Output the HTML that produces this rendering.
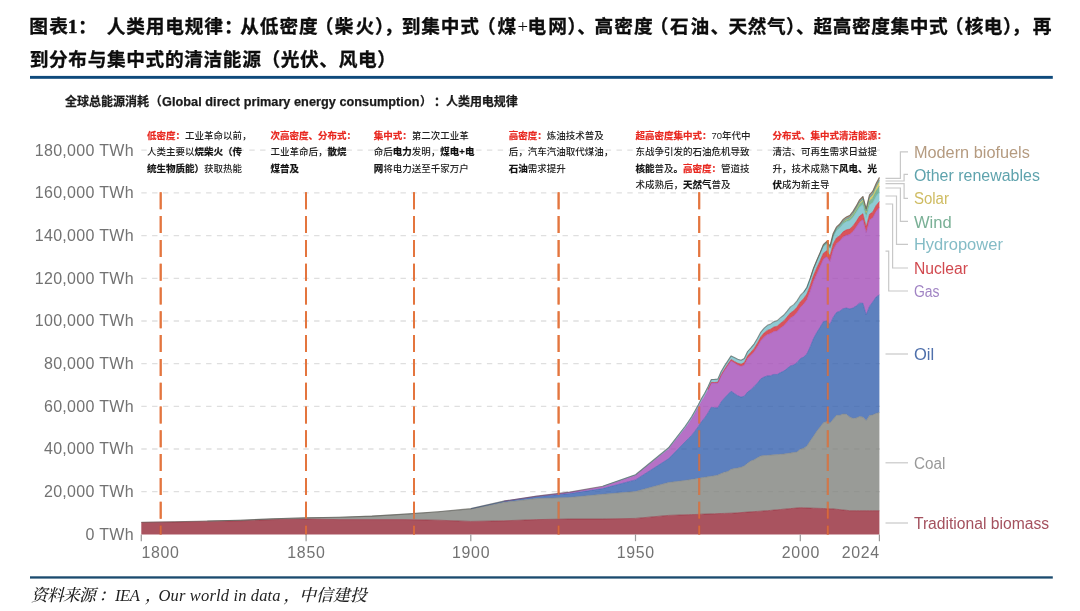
<!DOCTYPE html>
<html lang="zh-CN">
<head>
<meta charset="utf-8">
<title>图表1：人类用电规律</title>
<style>
html,body{margin:0;padding:0;background:#fff;}
body{width:1080px;height:611px;position:relative;overflow:hidden;font-family:"Liberation Sans","Noto Sans CJK SC",sans-serif;}
.tt,.tp,.sb,.sl,.fc,.fl{position:absolute;white-space:nowrap;}
.tt{font-family:"Liberation Serif","Noto Sans CJK SC",sans-serif;font-weight:bold;font-size:18.7px;line-height:24px;color:#0d0d0d;-webkit-text-stroke:0.3px #0d0d0d;}
.tp{font-family:"Liberation Serif","Noto Sans CJK SC",sans-serif;font-weight:normal;font-size:18.7px;line-height:24px;color:#0d0d0d;}
.sb{font-family:"Liberation Sans","Noto Sans CJK SC",sans-serif;font-weight:bold;font-size:12px;line-height:16px;color:#1a1a1a;-webkit-text-stroke:0.25px #1a1a1a;}
.sl{font-family:"Liberation Sans","Noto Sans CJK SC",sans-serif;font-weight:bold;font-size:12.7px;line-height:16px;color:#1a1a1a;-webkit-text-stroke:0.25px #1a1a1a;}
.fc{font-family:"Liberation Serif","Noto Serif CJK SC",serif;font-weight:500;font-style:italic;font-size:16.8px;line-height:22px;color:#222;}
.fl{font-family:"Liberation Serif","Noto Serif CJK SC",serif;font-style:italic;font-size:16.5px;line-height:22px;color:#222;}
.ann{position:absolute;top:128.0px;font-size:9.5px;line-height:16.4px;color:#222;white-space:nowrap;font-weight:500;}
.ann b{font-weight:bold;color:#111;-webkit-text-stroke:0.2px #111;}
.ann b.r{color:#e8261e;-webkit-text-stroke:0.2px #e8261e;}
svg text{font-family:"Liberation Sans",sans-serif;}
</style>
</head>
<body>
<h1 style="margin:0;font-size:inherit;font-weight:inherit"><span class="tt" style="left:29.25px;top:15.3px;letter-spacing:1.25px;">图表</span><span class="tt" style="left:68.03px;top:15.3px;-webkit-text-stroke:0.55px #0d0d0d;">1</span><span class="tt" style="left:77.97px;top:15.3px;">：</span><span class="tt" style="left:106.75px;top:15.3px;letter-spacing:0.80px;">人类用电规律</span><span class="tt" style="left:223.88px;top:15.3px;">：</span><span class="tt" style="left:240.25px;top:15.3px;letter-spacing:0.92px;">从低密度</span><span class="tt" style="left:314.75px;top:15.3px;">（</span><span class="tt" style="left:334.75px;top:15.3px;letter-spacing:2.00px;">柴火</span><span class="tt" style="left:375.12px;top:15.3px;">）</span><span class="tt" style="left:384.00px;top:15.3px;">，</span><span class="tt" style="left:401.75px;top:15.3px;letter-spacing:0.83px;">到集中式</span><span class="tt" style="left:476.98px;top:15.3px;">（</span><span class="tt" style="left:497.52px;top:15.3px;">煤</span><span class="tp" style="left:517.38px;top:15.3px;">+</span><span class="tt" style="left:527.50px;top:15.3px;letter-spacing:2.15px;">电网</span><span class="tt" style="left:567.42px;top:15.3px;">）</span><span class="tt" style="left:577.27px;top:15.3px;">、</span><span class="tt" style="left:594.50px;top:15.3px;letter-spacing:1.12px;">高密度</span><span class="tt" style="left:649.75px;top:15.3px;">（</span><span class="tt" style="left:670.00px;top:15.3px;letter-spacing:1.75px;">石油</span><span class="tt" style="left:710.62px;top:15.3px;">、</span><span class="tt" style="left:728.50px;top:15.3px;letter-spacing:0.62px;">天然气</span><span class="tt" style="left:786.02px;top:15.3px;">）</span><span class="tt" style="left:796.12px;top:15.3px;">、</span><span class="tt" style="left:813.50px;top:15.3px;letter-spacing:0.58px;">超高密度集中式</span><span class="tt" style="left:944.75px;top:15.3px;">（</span><span class="tt" style="left:964.75px;top:15.3px;letter-spacing:0.25px;">核电</span><span class="tt" style="left:1003.02px;top:15.3px;">）</span><span class="tt" style="left:1011.62px;top:15.3px;">，</span><span class="tt" style="left:1032.78px;top:15.3px;">再</span><span class="tt" style="left:29.75px;top:47.7px;letter-spacing:0.62px;">到分布与集中式的清洁能源（光伏、风电）</span></h1>
<div><span class="sb" style="left:65.00px;top:93.7px;">全球总能源消耗</span><span class="sb" style="left:149.75px;top:93.7px;">（</span><span class="sl" style="left:162.00px;top:93.7px;letter-spacing:0.04px;">Global direct primary energy consumption</span><span class="sb" style="left:420.12px;top:93.7px;">）</span><span class="sb" style="left:433.88px;top:93.7px;">：</span><span class="sb" style="left:446.00px;top:93.7px;letter-spacing:-0.05px;">人类用电规律</span></div>
<svg width="1080" height="611" viewBox="0 0 1080 611" style="position:absolute;left:0;top:0">
<line x1="141.3" x2="880" y1="491.7" y2="491.7" stroke="#dfdfdf" stroke-width="1.3" stroke-dasharray="5.4 5.4"/>
<line x1="141.3" x2="880" y1="449.0" y2="449.0" stroke="#dfdfdf" stroke-width="1.3" stroke-dasharray="5.4 5.4"/>
<line x1="141.3" x2="880" y1="406.3" y2="406.3" stroke="#dfdfdf" stroke-width="1.3" stroke-dasharray="5.4 5.4"/>
<line x1="141.3" x2="880" y1="363.6" y2="363.6" stroke="#dfdfdf" stroke-width="1.3" stroke-dasharray="5.4 5.4"/>
<line x1="141.3" x2="880" y1="321.0" y2="321.0" stroke="#dfdfdf" stroke-width="1.3" stroke-dasharray="5.4 5.4"/>
<line x1="141.3" x2="880" y1="278.3" y2="278.3" stroke="#dfdfdf" stroke-width="1.3" stroke-dasharray="5.4 5.4"/>
<line x1="141.3" x2="880" y1="235.6" y2="235.6" stroke="#dfdfdf" stroke-width="1.3" stroke-dasharray="5.4 5.4"/>
<line x1="141.3" x2="880" y1="192.9" y2="192.9" stroke="#dfdfdf" stroke-width="1.3" stroke-dasharray="5.4 5.4"/>
<line x1="141.3" x2="880" y1="150.2" y2="150.2" stroke="#dfdfdf" stroke-width="1.3" stroke-dasharray="5.4 5.4"/>
<line x1="160.7" x2="160.7" y1="192.3" y2="534.4" stroke="#e3763f" stroke-width="2" stroke-dasharray="17 6.8"/>
<line x1="306.0" x2="306.0" y1="192.3" y2="534.4" stroke="#e3763f" stroke-width="2" stroke-dasharray="17 6.8"/>
<line x1="414.0" x2="414.0" y1="192.3" y2="534.4" stroke="#e3763f" stroke-width="2" stroke-dasharray="17 6.8"/>
<line x1="558.6" x2="558.6" y1="192.3" y2="534.4" stroke="#e3763f" stroke-width="2" stroke-dasharray="17 6.8"/>
<line x1="699.2" x2="699.2" y1="192.3" y2="534.4" stroke="#e3763f" stroke-width="2" stroke-dasharray="17 6.8"/>
<line x1="827.8" x2="827.8" y1="192.3" y2="534.4" stroke="#e3763f" stroke-width="2" stroke-dasharray="17 6.8"/>
<polygon points="141.3,522.5 174.2,521.9 207.2,521.4 240.2,520.8 273.1,519.6 306.1,519.0 339.0,519.6 372.0,519.6 404.9,519.6 437.9,520.2 470.8,521.4 503.8,520.8 536.7,519.6 569.6,519.0 602.6,519.0 635.5,518.4 668.5,515.4 685.0,514.8 688.3,514.7 691.6,514.6 694.9,514.5 698.2,514.4 701.5,514.2 704.7,514.1 708.0,514.0 711.3,513.9 714.6,513.8 717.9,513.6 721.2,513.5 724.5,513.4 727.8,513.3 731.1,513.2 734.4,513.1 737.7,512.8 741.0,512.6 744.3,512.3 747.6,512.1 750.9,511.9 754.2,511.6 757.5,511.4 760.8,511.2 764.1,510.9 767.3,510.7 770.6,510.4 773.9,510.1 777.2,509.8 780.5,509.5 783.8,509.2 787.1,508.9 790.4,508.6 793.7,508.3 797.0,508.0 800.3,507.7 803.6,507.8 806.9,508.0 810.2,508.1 813.5,508.2 816.8,508.3 820.1,508.4 823.4,508.5 826.7,508.7 830.0,508.8 833.2,508.9 836.5,509.3 839.8,509.6 843.1,510.0 846.4,510.3 849.7,510.7 853.0,510.7 856.3,510.7 859.6,510.7 862.9,510.7 866.2,510.7 869.5,510.7 872.8,510.7 876.1,510.7 879.4,510.7 879.4,534.4 876.1,534.4 872.8,534.4 869.5,534.4 866.2,534.4 862.9,534.4 859.6,534.4 856.3,534.4 853.0,534.4 849.7,534.4 846.4,534.4 843.1,534.4 839.8,534.4 836.5,534.4 833.2,534.4 830.0,534.4 826.7,534.4 823.4,534.4 820.1,534.4 816.8,534.4 813.5,534.4 810.2,534.4 806.9,534.4 803.6,534.4 800.3,534.4 797.0,534.4 793.7,534.4 790.4,534.4 787.1,534.4 783.8,534.4 780.5,534.4 777.2,534.4 773.9,534.4 770.6,534.4 767.3,534.4 764.1,534.4 760.8,534.4 757.5,534.4 754.2,534.4 750.9,534.4 747.6,534.4 744.3,534.4 741.0,534.4 737.7,534.4 734.4,534.4 731.1,534.4 727.8,534.4 724.5,534.4 721.2,534.4 717.9,534.4 714.6,534.4 711.3,534.4 708.0,534.4 704.7,534.4 701.5,534.4 698.2,534.4 694.9,534.4 691.6,534.4 688.3,534.4 685.0,534.4 668.5,534.4 635.5,534.4 602.6,534.4 569.6,534.4 536.7,534.4 503.8,534.4 470.8,534.4 437.9,534.4 404.9,534.4 372.0,534.4 339.0,534.4 306.1,534.4 273.1,534.4 240.2,534.4 207.2,534.4 174.2,534.4 141.3,534.4" fill="#942837" fill-opacity="0.8"/>
<polygon points="207.2,521.0 240.2,520.2 273.1,518.8 306.1,517.8 339.0,517.3 372.0,516.1 404.9,514.2 437.9,511.9 470.8,509.1 503.8,502.3 536.7,498.6 569.6,497.4 602.6,494.3 635.5,491.5 668.5,482.5 685.0,480.4 688.3,479.9 691.6,479.4 694.9,478.9 698.2,478.3 701.5,477.8 704.7,477.3 708.0,476.7 711.3,476.2 714.6,475.7 717.9,475.1 721.2,473.5 724.5,472.2 727.8,471.5 731.1,469.3 734.4,468.5 737.7,468.0 741.0,467.3 744.3,465.9 747.6,463.2 750.9,460.9 754.2,459.8 757.5,457.7 760.8,456.0 764.1,455.5 767.3,455.4 770.6,455.1 773.9,454.8 777.2,454.6 780.5,454.3 783.8,454.1 787.1,453.5 790.4,453.0 793.7,452.5 797.0,452.0 800.3,449.2 803.6,448.3 806.9,446.1 810.2,440.9 813.5,436.2 816.8,431.2 820.1,427.0 823.4,422.7 826.7,421.5 830.0,423.0 833.2,419.3 836.5,415.3 839.8,415.3 843.1,414.0 846.4,414.3 849.7,417.1 853.0,418.4 856.3,418.0 859.6,416.5 862.9,417.1 866.2,420.6 869.5,415.6 872.8,414.9 876.1,413.4 879.4,412.6 879.4,510.7 876.1,510.7 872.8,510.7 869.5,510.7 866.2,510.7 862.9,510.7 859.6,510.7 856.3,510.7 853.0,510.7 849.7,510.7 846.4,510.3 843.1,510.0 839.8,509.6 836.5,509.3 833.2,508.9 830.0,508.8 826.7,508.7 823.4,508.5 820.1,508.4 816.8,508.3 813.5,508.2 810.2,508.1 806.9,508.0 803.6,507.8 800.3,507.7 797.0,508.0 793.7,508.3 790.4,508.6 787.1,508.9 783.8,509.2 780.5,509.5 777.2,509.8 773.9,510.1 770.6,510.4 767.3,510.7 764.1,510.9 760.8,511.2 757.5,511.4 754.2,511.6 750.9,511.9 747.6,512.1 744.3,512.3 741.0,512.6 737.7,512.8 734.4,513.1 731.1,513.2 727.8,513.3 724.5,513.4 721.2,513.5 717.9,513.6 714.6,513.8 711.3,513.9 708.0,514.0 704.7,514.1 701.5,514.2 698.2,514.4 694.9,514.5 691.6,514.6 688.3,514.7 685.0,514.8 668.5,515.4 635.5,518.4 602.6,519.0 569.6,519.0 536.7,519.6 503.8,520.8 470.8,521.4 437.9,520.2 404.9,519.6 372.0,519.6 339.0,519.6 306.1,519.0 273.1,519.6 240.2,520.8 207.2,521.4" fill="#80827d" fill-opacity="0.8"/>
<polygon points="470.8,508.7 503.8,501.4 536.7,496.7 569.6,493.6 602.6,488.6 635.5,479.9 668.5,458.8 685.0,442.0 688.3,438.7 691.6,435.4 694.9,431.2 698.2,426.7 701.5,421.7 704.7,417.9 708.0,412.9 711.3,407.2 714.6,407.7 717.9,407.9 721.2,401.9 724.5,398.0 727.8,394.5 731.1,391.2 734.4,393.5 737.7,395.7 741.0,397.1 744.3,396.2 747.6,392.1 750.9,389.7 754.2,386.5 757.5,383.0 760.8,378.9 764.1,377.0 767.3,375.9 770.6,375.7 773.9,374.4 777.2,374.5 780.5,372.6 783.8,371.1 787.1,368.6 790.4,365.9 793.7,365.0 797.0,362.7 800.3,358.7 803.6,357.1 806.9,354.0 810.2,346.9 813.5,338.6 816.8,332.5 820.1,327.3 823.4,321.7 826.7,321.1 830.0,324.4 833.2,317.4 836.5,312.5 839.8,311.2 843.1,308.7 846.4,308.1 849.7,308.9 853.0,308.1 856.3,305.9 859.6,303.2 862.9,303.3 866.2,314.8 869.5,306.4 872.8,301.9 876.1,297.0 879.4,294.9 879.4,412.6 876.1,413.4 872.8,414.9 869.5,415.6 866.2,420.6 862.9,417.1 859.6,416.5 856.3,418.0 853.0,418.4 849.7,417.1 846.4,414.3 843.1,414.0 839.8,415.3 836.5,415.3 833.2,419.3 830.0,423.0 826.7,421.5 823.4,422.7 820.1,427.0 816.8,431.2 813.5,436.2 810.2,440.9 806.9,446.1 803.6,448.3 800.3,449.2 797.0,452.0 793.7,452.5 790.4,453.0 787.1,453.5 783.8,454.1 780.5,454.3 777.2,454.6 773.9,454.8 770.6,455.1 767.3,455.4 764.1,455.5 760.8,456.0 757.5,457.7 754.2,459.8 750.9,460.9 747.6,463.2 744.3,465.9 741.0,467.3 737.7,468.0 734.4,468.5 731.1,469.3 727.8,471.5 724.5,472.2 721.2,473.5 717.9,475.1 714.6,475.7 711.3,476.2 708.0,476.7 704.7,477.3 701.5,477.8 698.2,478.3 694.9,478.9 691.6,479.4 688.3,479.9 685.0,480.4 668.5,482.5 635.5,491.5 602.6,494.3 569.6,497.4 536.7,498.6 503.8,502.3 470.8,509.1" fill="#3560ae" fill-opacity="0.8"/>
<polygon points="503.8,501.1 536.7,496.2 569.6,492.3 602.6,486.7 635.5,475.4 668.5,449.2 685.0,428.6 688.3,423.9 691.6,419.1 694.9,413.5 698.2,407.6 701.5,401.2 704.7,396.2 708.0,389.9 711.3,382.9 714.6,383.1 717.9,383.0 721.2,375.6 724.5,370.4 727.8,365.6 731.1,360.9 734.4,362.9 737.7,365.0 741.0,366.4 744.3,365.1 747.6,358.6 750.9,355.3 754.2,351.8 757.5,346.6 760.8,340.8 764.1,337.1 767.3,334.6 770.6,333.6 773.9,331.6 777.2,330.9 780.5,328.1 783.8,325.8 787.1,322.1 790.4,318.1 793.7,316.1 797.0,312.6 800.3,307.4 803.6,304.2 806.9,299.7 810.2,291.1 813.5,281.4 816.8,273.8 820.1,266.7 823.4,259.2 826.7,256.7 830.0,261.7 833.2,249.9 836.5,243.6 839.8,241.0 843.1,237.1 846.4,235.2 849.7,234.6 853.0,231.5 856.3,227.0 859.6,222.0 862.9,219.7 866.2,232.7 869.5,220.1 872.8,217.7 876.1,211.4 879.4,207.6 879.4,294.9 876.1,297.0 872.8,301.9 869.5,306.4 866.2,314.8 862.9,303.3 859.6,303.2 856.3,305.9 853.0,308.1 849.7,308.9 846.4,308.1 843.1,308.7 839.8,311.2 836.5,312.5 833.2,317.4 830.0,324.4 826.7,321.1 823.4,321.7 820.1,327.3 816.8,332.5 813.5,338.6 810.2,346.9 806.9,354.0 803.6,357.1 800.3,358.7 797.0,362.7 793.7,365.0 790.4,365.9 787.1,368.6 783.8,371.1 780.5,372.6 777.2,374.5 773.9,374.4 770.6,375.7 767.3,375.9 764.1,377.0 760.8,378.9 757.5,383.0 754.2,386.5 750.9,389.7 747.6,392.1 744.3,396.2 741.0,397.1 737.7,395.7 734.4,393.5 731.1,391.2 727.8,394.5 724.5,398.0 721.2,401.9 717.9,407.9 714.6,407.7 711.3,407.2 708.0,412.9 704.7,417.9 701.5,421.7 698.2,426.7 694.9,431.2 691.6,435.4 688.3,438.7 685.0,442.0 668.5,458.8 635.5,479.9 602.6,488.6 569.6,493.6 536.7,496.7 503.8,501.4" fill="#a44eb8" fill-opacity="0.8"/>
<polygon points="708.0,389.5 711.3,382.4 714.6,382.5 717.9,382.2 721.2,374.7 724.5,369.3 727.8,364.3 731.1,359.5 734.4,361.4 737.7,363.2 741.0,364.2 744.3,362.6 747.6,355.8 750.9,352.2 754.2,348.4 757.5,343.0 760.8,336.9 764.1,333.0 767.3,330.4 770.6,329.2 773.9,327.0 777.2,326.2 780.5,323.3 783.8,320.9 787.1,317.0 790.4,313.0 793.7,310.8 797.0,307.2 800.3,301.9 803.6,298.7 806.9,294.0 810.2,285.4 813.5,275.6 816.8,267.9 820.1,260.7 823.4,253.2 826.7,250.8 830.0,255.7 833.2,243.9 836.5,237.9 839.8,235.7 843.1,231.8 846.4,229.8 849.7,229.1 853.0,225.9 856.3,221.3 859.6,216.1 862.9,213.7 866.2,226.9 869.5,214.3 872.8,211.9 876.1,205.5 879.4,201.6 879.4,207.6 876.1,211.4 872.8,217.7 869.5,220.1 866.2,232.7 862.9,219.7 859.6,222.0 856.3,227.0 853.0,231.5 849.7,234.6 846.4,235.2 843.1,237.1 839.8,241.0 836.5,243.6 833.2,249.9 830.0,261.7 826.7,256.7 823.4,259.2 820.1,266.7 816.8,273.8 813.5,281.4 810.2,291.1 806.9,299.7 803.6,304.2 800.3,307.4 797.0,312.6 793.7,316.1 790.4,318.1 787.1,322.1 783.8,325.8 780.5,328.1 777.2,330.9 773.9,331.6 770.6,333.6 767.3,334.6 764.1,337.1 760.8,340.8 757.5,346.6 754.2,351.8 750.9,355.3 747.6,358.6 744.3,365.1 741.0,366.4 737.7,365.0 734.4,362.9 731.1,360.9 727.8,365.6 724.5,370.4 721.2,375.6 717.9,383.0 714.6,383.1 711.3,382.9 708.0,389.9" fill="#d02831" fill-opacity="0.8"/>
<polygon points="602.6,486.3 635.5,474.7 668.5,447.8 685.0,426.5 688.3,421.7 691.6,416.8 694.9,411.1 698.2,405.1 701.5,398.6 704.7,393.2 708.0,386.8 711.3,379.5 714.6,379.5 717.9,379.1 721.2,371.5 724.5,366.0 727.8,360.9 731.1,356.0 734.4,357.7 737.7,359.4 741.0,360.4 744.3,358.6 747.6,351.6 750.9,347.9 754.2,344.1 757.5,338.6 760.8,332.5 764.1,328.5 767.3,325.8 770.6,324.4 773.9,322.1 777.2,321.2 780.5,318.2 783.8,315.6 787.1,311.6 790.4,307.5 793.7,305.3 797.0,301.6 800.3,296.2 803.6,292.9 806.9,288.1 810.2,279.3 813.5,269.4 816.8,261.7 820.1,254.3 823.4,246.6 826.7,243.9 830.0,248.6 833.2,236.6 836.5,230.4 839.8,228.0 843.1,223.9 846.4,221.7 849.7,220.8 853.0,217.4 856.3,212.6 859.6,207.2 862.9,204.6 866.2,217.6 869.5,205.1 872.8,202.8 876.1,196.5 879.4,192.1 879.4,201.6 876.1,205.5 872.8,211.9 869.5,214.3 866.2,226.9 862.9,213.7 859.6,216.1 856.3,221.3 853.0,225.9 849.7,229.1 846.4,229.8 843.1,231.8 839.8,235.7 836.5,237.9 833.2,243.9 830.0,255.7 826.7,250.8 823.4,253.2 820.1,260.7 816.8,267.9 813.5,275.6 810.2,285.4 806.9,294.0 803.6,298.7 800.3,301.9 797.0,307.2 793.7,310.8 790.4,313.0 787.1,317.0 783.8,320.9 780.5,323.3 777.2,326.2 773.9,327.0 770.6,329.2 767.3,330.4 764.1,333.0 760.8,336.9 757.5,343.0 754.2,348.4 750.9,352.2 747.6,355.8 744.3,362.6 741.0,364.2 737.7,363.2 734.4,361.4 731.1,359.5 727.8,364.3 724.5,369.3 721.2,374.7 717.9,382.2 714.6,382.5 711.3,382.4 708.0,389.5 704.7,395.9 701.5,401.1 698.2,407.5 694.9,413.4 691.6,419.0 688.3,423.8 685.0,428.5 668.5,449.2 635.5,475.4 602.6,486.7" fill="#73bec8" fill-opacity="0.8"/>
<polygon points="823.4,246.1 826.7,243.4 830.0,248.0 833.2,235.9 836.5,229.5 839.8,226.9 843.1,222.5 846.4,220.2 849.7,219.1 853.0,215.3 856.3,210.1 859.6,204.4 862.9,201.5 866.2,214.1 869.5,201.0 872.8,198.0 876.1,191.1 879.4,186.2 879.4,192.1 876.1,196.5 872.8,202.8 869.5,205.1 866.2,217.6 862.9,204.6 859.6,207.2 856.3,212.6 853.0,217.4 849.7,220.8 846.4,221.7 843.1,223.9 839.8,228.0 836.5,230.4 833.2,236.6 830.0,248.6 826.7,243.9 823.4,246.6" fill="#5da682" fill-opacity="0.8"/>
<polygon points="843.1,222.2 846.4,219.7 849.7,218.5 853.0,214.5 856.3,209.1 859.6,203.1 862.9,199.9 866.2,212.3 869.5,198.6 872.8,195.1 876.1,187.6 879.4,181.6 879.4,186.2 876.1,191.1 872.8,198.0 869.5,201.0 866.2,214.1 862.9,201.5 859.6,204.4 856.3,210.1 853.0,215.3 849.7,219.1 846.4,220.2 843.1,222.5" fill="#cebe4f" fill-opacity="0.8"/>
<polygon points="803.6,292.4 806.9,287.5 810.2,278.7 813.5,268.7 816.8,260.8 820.1,253.3 823.4,245.4 826.7,242.6 830.0,247.2 833.2,235.0 836.5,228.5 839.8,225.7 843.1,221.2 846.4,218.7 849.7,217.4 853.0,213.3 856.3,207.9 859.6,201.8 862.9,198.6 866.2,210.9 869.5,197.1 872.8,193.6 876.1,186.0 879.4,179.9 879.4,181.6 876.1,187.6 872.8,195.1 869.5,198.6 866.2,212.3 862.9,199.9 859.6,203.1 856.3,209.1 853.0,214.5 849.7,218.5 846.4,219.7 843.1,222.2 839.8,226.6 836.5,229.3 833.2,235.8 830.0,247.9 826.7,243.3 823.4,246.1 820.1,253.9 816.8,261.4 813.5,269.2 810.2,279.2 806.9,288.0 803.6,292.8" fill="#3b94a0" fill-opacity="0.8"/>
<polygon points="810.2,278.3 813.5,268.2 816.8,260.3 820.1,252.6 823.4,244.5 826.7,241.5 830.0,245.9 833.2,233.5 836.5,226.9 839.8,224.0 843.1,219.4 846.4,216.9 849.7,215.5 853.0,211.4 856.3,205.9 859.6,199.8 862.9,196.5 866.2,208.8 869.5,194.9 872.8,191.2 876.1,183.6 879.4,177.4 879.4,179.9 876.1,186.0 872.8,193.6 869.5,197.1 866.2,210.9 862.9,198.6 859.6,201.8 856.3,207.9 853.0,213.3 849.7,217.4 846.4,218.7 843.1,221.2 839.8,225.7 836.5,228.5 833.2,235.0 830.0,247.2 826.7,242.6 823.4,245.4 820.1,253.3 816.8,260.8 813.5,268.7 810.2,278.7" fill="#a58365" fill-opacity="0.8"/>
<polyline points="141.3,522.5 174.2,521.9 207.2,521.4 240.2,520.8 273.1,519.6 306.1,519.0 339.0,519.6 372.0,519.6 404.9,519.6 437.9,520.2 470.8,521.4 503.8,520.8 536.7,519.6 569.6,519.0 602.6,519.0 635.5,518.4 668.5,515.4 685.0,514.8 688.3,514.7 691.6,514.6 694.9,514.5 698.2,514.4 701.5,514.2 704.7,514.1 708.0,514.0 711.3,513.9 714.6,513.8 717.9,513.6 721.2,513.5 724.5,513.4 727.8,513.3 731.1,513.2 734.4,513.1 737.7,512.8 741.0,512.6 744.3,512.3 747.6,512.1 750.9,511.9 754.2,511.6 757.5,511.4 760.8,511.2 764.1,510.9 767.3,510.7 770.6,510.4 773.9,510.1 777.2,509.8 780.5,509.5 783.8,509.2 787.1,508.9 790.4,508.6 793.7,508.3 797.0,508.0 800.3,507.7 803.6,507.8 806.9,508.0 810.2,508.1 813.5,508.2 816.8,508.3 820.1,508.4 823.4,508.5 826.7,508.7 830.0,508.8 833.2,508.9 836.5,509.3 839.8,509.6 843.1,510.0 846.4,510.3 849.7,510.7 853.0,510.7 856.3,510.7 859.6,510.7 862.9,510.7 866.2,510.7 869.5,510.7 872.8,510.7 876.1,510.7 879.4,510.7" fill="none" stroke="#942837" stroke-opacity="0.7" stroke-width="0.8" stroke-linejoin="round"/>
<polyline points="207.2,521.0 240.2,520.2 273.1,518.8 306.1,517.8 339.0,517.3 372.0,516.1 404.9,514.2 437.9,511.9 470.8,509.1 503.8,502.3 536.7,498.6 569.6,497.4 602.6,494.3 635.5,491.5 668.5,482.5 685.0,480.4 688.3,479.9 691.6,479.4 694.9,478.9 698.2,478.3 701.5,477.8 704.7,477.3 708.0,476.7 711.3,476.2 714.6,475.7 717.9,475.1 721.2,473.5 724.5,472.2 727.8,471.5 731.1,469.3 734.4,468.5 737.7,468.0 741.0,467.3 744.3,465.9 747.6,463.2 750.9,460.9 754.2,459.8 757.5,457.7 760.8,456.0 764.1,455.5 767.3,455.4 770.6,455.1 773.9,454.8 777.2,454.6 780.5,454.3 783.8,454.1 787.1,453.5 790.4,453.0 793.7,452.5 797.0,452.0 800.3,449.2 803.6,448.3 806.9,446.1 810.2,440.9 813.5,436.2 816.8,431.2 820.1,427.0 823.4,422.7 826.7,421.5 830.0,423.0 833.2,419.3 836.5,415.3 839.8,415.3 843.1,414.0 846.4,414.3 849.7,417.1 853.0,418.4 856.3,418.0 859.6,416.5 862.9,417.1 866.2,420.6 869.5,415.6 872.8,414.9 876.1,413.4 879.4,412.6" fill="none" stroke="#80827d" stroke-opacity="0.7" stroke-width="0.8" stroke-linejoin="round"/>
<polyline points="470.8,508.7 503.8,501.4 536.7,496.7 569.6,493.6 602.6,488.6 635.5,479.9 668.5,458.8 685.0,442.0 688.3,438.7 691.6,435.4 694.9,431.2 698.2,426.7 701.5,421.7 704.7,417.9 708.0,412.9 711.3,407.2 714.6,407.7 717.9,407.9 721.2,401.9 724.5,398.0 727.8,394.5 731.1,391.2 734.4,393.5 737.7,395.7 741.0,397.1 744.3,396.2 747.6,392.1 750.9,389.7 754.2,386.5 757.5,383.0 760.8,378.9 764.1,377.0 767.3,375.9 770.6,375.7 773.9,374.4 777.2,374.5 780.5,372.6 783.8,371.1 787.1,368.6 790.4,365.9 793.7,365.0 797.0,362.7 800.3,358.7 803.6,357.1 806.9,354.0 810.2,346.9 813.5,338.6 816.8,332.5 820.1,327.3 823.4,321.7 826.7,321.1 830.0,324.4 833.2,317.4 836.5,312.5 839.8,311.2 843.1,308.7 846.4,308.1 849.7,308.9 853.0,308.1 856.3,305.9 859.6,303.2 862.9,303.3 866.2,314.8 869.5,306.4 872.8,301.9 876.1,297.0 879.4,294.9" fill="none" stroke="#3560ae" stroke-opacity="0.7" stroke-width="0.8" stroke-linejoin="round"/>
<polyline points="503.8,501.1 536.7,496.2 569.6,492.3 602.6,486.7 635.5,475.4 668.5,449.2 685.0,428.6 688.3,423.9 691.6,419.1 694.9,413.5 698.2,407.6 701.5,401.2 704.7,396.2 708.0,389.9 711.3,382.9 714.6,383.1 717.9,383.0 721.2,375.6 724.5,370.4 727.8,365.6 731.1,360.9 734.4,362.9 737.7,365.0 741.0,366.4 744.3,365.1 747.6,358.6 750.9,355.3 754.2,351.8 757.5,346.6 760.8,340.8 764.1,337.1 767.3,334.6 770.6,333.6 773.9,331.6 777.2,330.9 780.5,328.1 783.8,325.8 787.1,322.1 790.4,318.1 793.7,316.1 797.0,312.6 800.3,307.4 803.6,304.2 806.9,299.7 810.2,291.1 813.5,281.4 816.8,273.8 820.1,266.7 823.4,259.2 826.7,256.7 830.0,261.7 833.2,249.9 836.5,243.6 839.8,241.0 843.1,237.1 846.4,235.2 849.7,234.6 853.0,231.5 856.3,227.0 859.6,222.0 862.9,219.7 866.2,232.7 869.5,220.1 872.8,217.7 876.1,211.4 879.4,207.6" fill="none" stroke="#a44eb8" stroke-opacity="0.7" stroke-width="0.8" stroke-linejoin="round"/>
<polyline points="708.0,389.5 711.3,382.4 714.6,382.5 717.9,382.2 721.2,374.7 724.5,369.3 727.8,364.3 731.1,359.5 734.4,361.4 737.7,363.2 741.0,364.2 744.3,362.6 747.6,355.8 750.9,352.2 754.2,348.4 757.5,343.0 760.8,336.9 764.1,333.0 767.3,330.4 770.6,329.2 773.9,327.0 777.2,326.2 780.5,323.3 783.8,320.9 787.1,317.0 790.4,313.0 793.7,310.8 797.0,307.2 800.3,301.9 803.6,298.7 806.9,294.0 810.2,285.4 813.5,275.6 816.8,267.9 820.1,260.7 823.4,253.2 826.7,250.8 830.0,255.7 833.2,243.9 836.5,237.9 839.8,235.7 843.1,231.8 846.4,229.8 849.7,229.1 853.0,225.9 856.3,221.3 859.6,216.1 862.9,213.7 866.2,226.9 869.5,214.3 872.8,211.9 876.1,205.5 879.4,201.6" fill="none" stroke="#d02831" stroke-opacity="0.7" stroke-width="0.8" stroke-linejoin="round"/>
<polyline points="602.6,486.3 635.5,474.7 668.5,447.8 685.0,426.5 688.3,421.7 691.6,416.8 694.9,411.1 698.2,405.1 701.5,398.6 704.7,393.2 708.0,386.8 711.3,379.5 714.6,379.5 717.9,379.1 721.2,371.5 724.5,366.0 727.8,360.9 731.1,356.0 734.4,357.7 737.7,359.4 741.0,360.4 744.3,358.6 747.6,351.6 750.9,347.9 754.2,344.1 757.5,338.6 760.8,332.5 764.1,328.5 767.3,325.8 770.6,324.4 773.9,322.1 777.2,321.2 780.5,318.2 783.8,315.6 787.1,311.6 790.4,307.5 793.7,305.3 797.0,301.6 800.3,296.2 803.6,292.9 806.9,288.1 810.2,279.3 813.5,269.4 816.8,261.7 820.1,254.3 823.4,246.6 826.7,243.9 830.0,248.6 833.2,236.6 836.5,230.4 839.8,228.0 843.1,223.9 846.4,221.7 849.7,220.8 853.0,217.4 856.3,212.6 859.6,207.2 862.9,204.6 866.2,217.6 869.5,205.1 872.8,202.8 876.1,196.5 879.4,192.1" fill="none" stroke="#73bec8" stroke-opacity="0.7" stroke-width="0.8" stroke-linejoin="round"/>
<polyline points="823.4,246.1 826.7,243.4 830.0,248.0 833.2,235.9 836.5,229.5 839.8,226.9 843.1,222.5 846.4,220.2 849.7,219.1 853.0,215.3 856.3,210.1 859.6,204.4 862.9,201.5 866.2,214.1 869.5,201.0 872.8,198.0 876.1,191.1 879.4,186.2" fill="none" stroke="#5da682" stroke-opacity="0.7" stroke-width="0.8" stroke-linejoin="round"/>
<polyline points="843.1,222.2 846.4,219.7 849.7,218.5 853.0,214.5 856.3,209.1 859.6,203.1 862.9,199.9 866.2,212.3 869.5,198.6 872.8,195.1 876.1,187.6 879.4,181.6" fill="none" stroke="#cebe4f" stroke-opacity="0.7" stroke-width="0.8" stroke-linejoin="round"/>
<polyline points="803.6,292.4 806.9,287.5 810.2,278.7 813.5,268.7 816.8,260.8 820.1,253.3 823.4,245.4 826.7,242.6 830.0,247.2 833.2,235.0 836.5,228.5 839.8,225.7 843.1,221.2 846.4,218.7 849.7,217.4 853.0,213.3 856.3,207.9 859.6,201.8 862.9,198.6 866.2,210.9 869.5,197.1 872.8,193.6 876.1,186.0 879.4,179.9" fill="none" stroke="#3b94a0" stroke-opacity="0.7" stroke-width="0.8" stroke-linejoin="round"/>
<polyline points="810.2,278.3 813.5,268.2 816.8,260.3 820.1,252.6 823.4,244.5 826.7,241.5 830.0,245.9 833.2,233.5 836.5,226.9 839.8,224.0 843.1,219.4 846.4,216.9 849.7,215.5 853.0,211.4 856.3,205.9 859.6,199.8 862.9,196.5 866.2,208.8 869.5,194.9 872.8,191.2 876.1,183.6 879.4,177.4" fill="none" stroke="#a58365" stroke-opacity="0.7" stroke-width="0.8" stroke-linejoin="round"/>
<polyline points="141.3,522.3 174.2,521.7 207.2,521.0 240.2,520.2 273.1,518.8 306.1,517.8 339.0,517.3 372.0,516.1 404.9,514.1 437.9,511.7 470.8,508.6 503.8,501.1 536.7,496.1 569.6,492.1 602.6,486.3 635.5,474.7 668.5,447.8 685.0,426.5 688.3,421.7 691.6,416.8 694.9,411.0 698.2,405.0 701.5,398.5 704.7,393.2 708.0,386.7 711.3,379.5 714.6,379.4 717.9,379.0 721.2,371.5 724.5,365.9 727.8,360.9 731.1,355.9 734.4,357.6 737.7,359.3 741.0,360.3 744.3,358.5 747.6,351.5 750.9,347.8 754.2,343.8 757.5,338.3 760.8,332.1 764.1,328.1 767.3,325.3 770.6,323.9 773.9,321.6 777.2,320.6 780.5,317.6 783.8,315.0 787.1,311.1 790.4,306.9 793.7,304.6 797.0,300.9 800.3,295.5 803.6,292.1 806.9,287.2 810.2,278.3 813.5,268.2 816.8,260.3 820.1,252.6 823.4,244.5 826.7,241.5 830.0,245.9 833.2,233.5 836.5,226.9 839.8,224.0 843.1,219.4 846.4,216.9 849.7,215.5 853.0,211.4 856.3,205.9 859.6,199.8 862.9,196.5 866.2,208.8 869.5,194.9 872.8,191.2 876.1,183.6 879.4,177.4" fill="none" stroke="#4a4a44" stroke-opacity="0.55" stroke-width="1.1" stroke-linejoin="round"/>
<line x1="160.7" x2="160.7" y1="192.3" y2="534.4" stroke="#e3763f" stroke-width="2" stroke-dasharray="17 6.8" stroke-opacity="0.8"/>
<line x1="306.0" x2="306.0" y1="192.3" y2="534.4" stroke="#e3763f" stroke-width="2" stroke-dasharray="17 6.8" stroke-opacity="0.8"/>
<line x1="414.0" x2="414.0" y1="192.3" y2="534.4" stroke="#e3763f" stroke-width="2" stroke-dasharray="17 6.8" stroke-opacity="0.8"/>
<line x1="558.6" x2="558.6" y1="192.3" y2="534.4" stroke="#e3763f" stroke-width="2" stroke-dasharray="17 6.8" stroke-opacity="0.8"/>
<line x1="699.2" x2="699.2" y1="192.3" y2="534.4" stroke="#e3763f" stroke-width="2" stroke-dasharray="17 6.8" stroke-opacity="0.8"/>
<line x1="827.8" x2="827.8" y1="192.3" y2="534.4" stroke="#e3763f" stroke-width="2" stroke-dasharray="17 6.8" stroke-opacity="0.8"/>
<line x1="141.3" x2="141.3" y1="534.4" y2="541.2" stroke="#999" stroke-width="1.2"/>
<line x1="306.1" x2="306.1" y1="534.4" y2="541.2" stroke="#999" stroke-width="1.2"/>
<line x1="470.8" x2="470.8" y1="534.4" y2="541.2" stroke="#999" stroke-width="1.2"/>
<line x1="635.5" x2="635.5" y1="534.4" y2="541.2" stroke="#999" stroke-width="1.2"/>
<line x1="800.3" x2="800.3" y1="534.4" y2="541.2" stroke="#999" stroke-width="1.2"/>
<line x1="879.4" x2="879.4" y1="534.4" y2="541.2" stroke="#999" stroke-width="1.2"/>
<path d="M885.5 178.3 H900.4 V151.8 H908" fill="none" stroke="#c8c8c8" stroke-width="1.2"/>
<path d="M885.5 181.0 H904.1 V174.4 H908" fill="none" stroke="#c8c8c8" stroke-width="1.2"/>
<path d="M885.5 183.6 H904.1 V198.3 H908" fill="none" stroke="#c8c8c8" stroke-width="1.2"/>
<path d="M885.5 188.0 H900.4 V221.4 H908" fill="none" stroke="#c8c8c8" stroke-width="1.2"/>
<path d="M885.5 196.0 H896.5 V244.4 H908" fill="none" stroke="#c8c8c8" stroke-width="1.2"/>
<path d="M885.5 204.0 H892.6 V268.0 H908" fill="none" stroke="#c8c8c8" stroke-width="1.2"/>
<path d="M885.5 251.2 H888.7 V291.0 H908" fill="none" stroke="#c8c8c8" stroke-width="1.2"/>
<path d="M885.5 354.0 H908" fill="none" stroke="#c8c8c8" stroke-width="1.2"/>
<path d="M885.5 462.8 H908" fill="none" stroke="#c8c8c8" stroke-width="1.2"/>
<path d="M885.5 523.0 H908" fill="none" stroke="#c8c8c8" stroke-width="1.2"/>
<text x="913.9" y="152.4" fill="#b59b80" font-size="15.6" textLength="116.0" lengthAdjust="spacingAndGlyphs" dominant-baseline="central">Modern biofuels</text>
<text x="913.9" y="175.8" fill="#5fa3ad" font-size="15.6" textLength="126.0" lengthAdjust="spacingAndGlyphs" dominant-baseline="central">Other renewables</text>
<text x="913.9" y="198.8" fill="#cfbc62" font-size="15.6" textLength="35.1" lengthAdjust="spacingAndGlyphs" dominant-baseline="central">Solar</text>
<text x="913.9" y="222.1" fill="#7ab096" font-size="15.6" textLength="37.8" lengthAdjust="spacingAndGlyphs" dominant-baseline="central">Wind</text>
<text x="913.9" y="244.9" fill="#84bcc6" font-size="15.6" textLength="89.0" lengthAdjust="spacingAndGlyphs" dominant-baseline="central">Hydropower</text>
<text x="913.9" y="268.5" fill="#d1494f" font-size="15.6" textLength="54.0" lengthAdjust="spacingAndGlyphs" dominant-baseline="central">Nuclear</text>
<text x="913.9" y="291.8" fill="#a184c4" font-size="15.6" textLength="25.6" lengthAdjust="spacingAndGlyphs" dominant-baseline="central">Gas</text>
<text x="913.9" y="354.5" fill="#4f70ab" font-size="15.6" textLength="20.2" lengthAdjust="spacingAndGlyphs" dominant-baseline="central">Oil</text>
<text x="913.9" y="463.1" fill="#999999" font-size="15.6" textLength="31.4" lengthAdjust="spacingAndGlyphs" dominant-baseline="central">Coal</text>
<text x="913.9" y="523.5" fill="#a4515e" font-size="15.6" textLength="135.3" lengthAdjust="spacingAndGlyphs" dominant-baseline="central">Traditional biomass</text>
<text x="134.0" y="534.2" fill="#727272" font-size="16" letter-spacing="0.32" text-anchor="end" dominant-baseline="central">0 TWh</text>
<text x="134.0" y="491.5" fill="#727272" font-size="16" letter-spacing="0.32" text-anchor="end" dominant-baseline="central">20,000 TWh</text>
<text x="134.0" y="448.8" fill="#727272" font-size="16" letter-spacing="0.32" text-anchor="end" dominant-baseline="central">40,000 TWh</text>
<text x="134.0" y="406.1" fill="#727272" font-size="16" letter-spacing="0.32" text-anchor="end" dominant-baseline="central">60,000 TWh</text>
<text x="134.0" y="363.4" fill="#727272" font-size="16" letter-spacing="0.32" text-anchor="end" dominant-baseline="central">80,000 TWh</text>
<text x="134.0" y="320.8" fill="#727272" font-size="16" letter-spacing="0.32" text-anchor="end" dominant-baseline="central">100,000 TWh</text>
<text x="134.0" y="278.1" fill="#727272" font-size="16" letter-spacing="0.32" text-anchor="end" dominant-baseline="central">120,000 TWh</text>
<text x="134.0" y="235.4" fill="#727272" font-size="16" letter-spacing="0.32" text-anchor="end" dominant-baseline="central">140,000 TWh</text>
<text x="134.0" y="192.7" fill="#727272" font-size="16" letter-spacing="0.32" text-anchor="end" dominant-baseline="central">160,000 TWh</text>
<text x="134.0" y="150.0" fill="#727272" font-size="16" letter-spacing="0.32" text-anchor="end" dominant-baseline="central">180,000 TWh</text>
<text x="141.4" y="552.4" fill="#727272" font-size="15.9" letter-spacing="0.7" text-anchor="start" dominant-baseline="central">1800</text>
<text x="306.4" y="552.4" fill="#727272" font-size="15.9" letter-spacing="0.7" text-anchor="middle" dominant-baseline="central">1850</text>
<text x="471.1" y="552.4" fill="#727272" font-size="15.9" letter-spacing="0.7" text-anchor="middle" dominant-baseline="central">1900</text>
<text x="635.8" y="552.4" fill="#727272" font-size="15.9" letter-spacing="0.7" text-anchor="middle" dominant-baseline="central">1950</text>
<text x="800.9" y="552.4" fill="#727272" font-size="15.9" letter-spacing="0.7" text-anchor="middle" dominant-baseline="central">2000</text>
<text x="879.8" y="552.4" fill="#727272" font-size="15.9" letter-spacing="0.7" text-anchor="end" dominant-baseline="central">2024</text>
<rect x="30" y="75.9" width="1022.8" height="2.9" fill="#0e4a7c"/>
<rect x="30" y="576.3" width="1022.8" height="2.3" fill="#1b4b6e"/>
</svg>
<div class="ann" style="left:147.0px"><div><b class="r">低密度：</b>工业革命以前，</div><div>人类主要以<b>烧柴火（传</b></div><div><b>统生物质能）</b>获取热能</div></div>
<div class="ann" style="left:270.5px"><div><b class="r">次高密度、分布式：</b></div><div>工业革命后，<b>散烧</b></div><div><b>煤普及</b></div></div>
<div class="ann" style="left:373.8px"><div><b class="r">集中式：</b>第二次工业革</div><div>命后<b>电力</b>发明，<b>煤电+电</b></div><div><b>网</b>将电力送至千家万户</div></div>
<div class="ann" style="left:508.8px"><div><b class="r">高密度：</b>炼油技术普及</div><div>后，汽车汽油取代煤油，</div><div><b>石油</b>需求提升</div></div>
<div class="ann" style="left:635.5px"><div><b class="r">超高密度集中式：</b>70年代中</div><div>东战争引发的石油危机导致</div><div><b>核能</b>普及<b>。</b><b class="r">高密度：</b>管道技</div><div>术成熟后，<b>天然气</b>普及</div></div>
<div class="ann" style="left:772.5px"><div><b class="r">分布式、集中式清洁能源：</b></div><div>清洁、可再生需求日益提</div><div>升，技术成熟下<b>风电、光</b></div><div><b>伏</b>成为新主导</div></div>
<div><span class="fc" style="left:30.95px;top:585.0px;letter-spacing:-0.80px;">资料来源</span><span class="fc" style="left:98.60px;top:585.0px;">：</span><span class="fl" style="left:115.00px;top:585.0px;letter-spacing:-0.38px;">IEA</span><span class="fc" style="left:144.90px;top:585.0px;">，</span><span class="fl" style="left:158.55px;top:585.0px;letter-spacing:0.15px;">Our world in data</span><span class="fc" style="left:283.55px;top:585.0px;">，</span><span class="fc" style="left:299.20px;top:585.0px;letter-spacing:0.12px;">中信建投</span></div>
</body>
</html>
